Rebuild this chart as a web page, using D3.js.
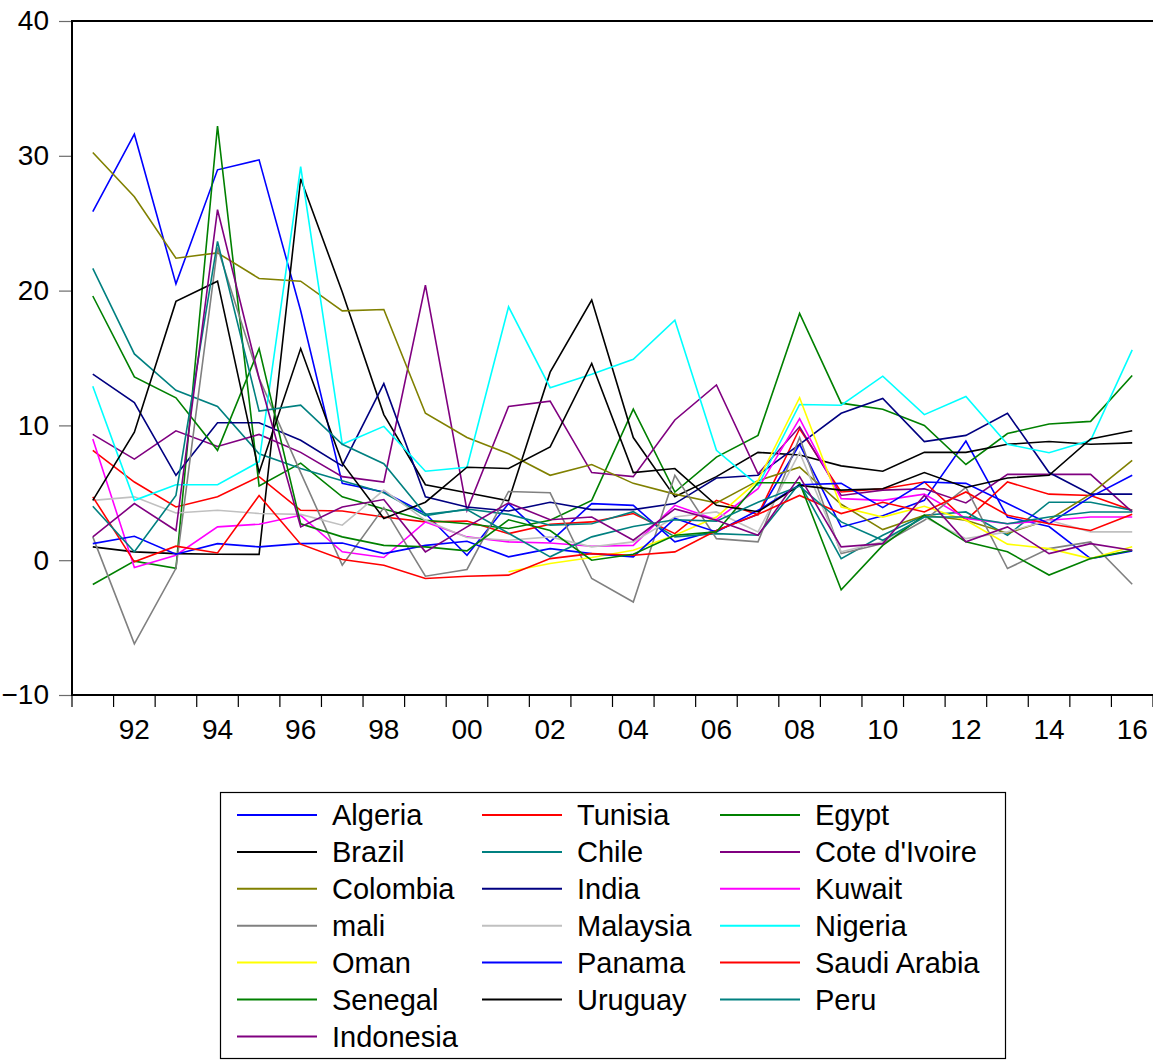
<!DOCTYPE html>
<html>
<head>
<meta charset="utf-8">
<script src="https://cdn.jsdelivr.net/npm/d3@7"></script>
<style>
body { margin: 0; background: #fff; }
text { font-family: "Liberation Sans", Arial, sans-serif; }
</style>
</head>
<body>
<svg id="chart" width="1153" height="1062"></svg>
<script>
// years on the x axis
var years = [1991,1992,1993,1994,1995,1996,1997,1998,1999,2000,2001,2002,2003,
             2004,2005,2006,2007,2008,2009,2010,2011,2012,2013,2014,2015,2016];
var yTicks = [-10, 0, 10, 20, 30, 40];

// series values
var algeria  = [25.85,31.6,20.5,28.96,29.7,18.5,5.7,5.06,3.46,0.37,4.2,1.36,4.2,4.07,1.36,2.2,3.4,8.6,2.47,3.3,4.44,8.84,3.2,2.5,0.12,0.69];
var tunisia  = [8.15,5.8,3.95,4.7,6.2,3.7,3.65,3.2,2.84,2.9,1.97,2.67,2.84,3.46,1.97,4.44,3.38,9.75,5.06,5.3,5.8,2.96,5.8,4.9,4.8,3.7];
var egypt    = [-1.8,-0.07,-0.6,32.2,5.5,7.2,4.7,3.8,2.96,2.7,2.35,2.96,4.44,11.2,5.06,7.65,9.26,18.3,11.65,11.2,10.0,7.1,9.4,10.1,10.3,13.7];
var brazil   = [0.99,0.62,0.49,0.44,0.43,28.3,19.9,10.8,5.6,5.0,4.4,13.95,19.3,9.1,4.7,6.2,8.0,7.8,7.0,6.6,8.0,8.0,8.6,8.8,8.6,8.7];
var chile    = [21.65,15.3,12.6,11.4,7.9,6.8,5.9,5.0,3.3,3.8,3.4,2.6,2.7,3.6,1.73,1.97,1.85,5.7,0.12,1.85,3.33,3.58,1.85,4.3,4.3,3.7];
var coteIvoire = [9.33,7.5,9.6,8.44,9.33,8.0,6.2,5.8,20.4,3.7,11.4,11.8,6.5,6.2,10.4,13.0,6.4,9.9,4.8,5.2,5.3,4.25,6.37,6.37,6.37,3.58];
var colombia = [30.25,26.96,22.4,22.8,20.9,20.7,18.5,18.6,10.9,9.1,7.9,6.3,7.1,5.7,4.9,4.25,5.9,6.9,4.15,2.27,3.33,2.96,2.0,3.0,4.9,7.4];
var india    = [13.8,11.7,6.3,10.2,10.2,8.9,7.0,13.1,4.7,3.95,3.65,4.3,3.75,3.75,4.2,6.1,6.3,8.6,10.9,12.0,8.8,9.26,10.9,6.5,4.9,4.9];
var kuwait   = [9.0,-0.54,0.37,2.47,2.67,3.33,0.62,0.2,2.84,1.73,1.36,1.28,1.04,1.1,4.07,3.0,5.3,10.5,4.57,4.44,4.9,3.1,2.7,2.96,3.2,3.2];
var mali     = [1.73,-6.2,-0.6,23.2,13.5,6.5,-0.37,3.9,-1.19,-0.69,5.1,5.0,-1.36,-3.1,6.3,1.6,1.36,9.1,0.49,1.23,2.96,5.4,-0.62,0.86,1.36,-1.78];
var malaysia = [4.44,4.7,3.5,3.7,3.46,3.4,2.6,5.2,2.96,1.68,1.48,1.73,0.99,1.36,3.2,3.58,2.1,8.0,0.62,1.36,3.2,1.6,2.1,2.96,2.1,2.1];
var nigeria  = [12.9,4.44,5.6,5.6,7.3,29.2,8.6,9.93,6.6,6.9,18.8,12.8,13.8,14.9,17.8,8.15,5.55,11.55,11.5,13.65,10.8,12.15,8.6,7.97,8.9,15.6];
var oman     = [null,null,null,null,null,null,null,null,null,null,-0.86,-0.25,0.2,0.74,1.85,3.2,5.9,12.05,3.95,3.2,4.0,2.96,1.19,0.86,0.12,0.99];
var panama   = [1.23,1.78,0.44,1.23,0.99,1.23,1.28,0.49,1.1,1.4,0.25,0.86,0.49,0.25,3.1,2.1,3.7,5.6,5.7,3.9,5.8,5.7,4.2,2.7,4.7,6.3];
var saudi    = [4.7,-0.12,1.04,0.54,4.8,1.19,0.05,-0.37,-1.36,-1.19,-1.11,0.12,0.49,0.37,0.62,2.2,3.4,4.8,3.46,4.3,3.58,5.06,3.33,2.7,2.2,3.4];
var senegal  = [19.6,13.6,12.05,8.15,15.7,2.7,1.73,1.1,0.99,0.69,3.0,2.2,0.0,0.44,1.85,2.1,5.75,5.75,-2.2,1.1,3.33,1.36,0.62,-1.1,0.12,0.74];
var uruguay  = [4.44,9.5,19.2,20.7,6.5,15.7,7.2,3.1,4.3,6.9,6.8,8.4,14.6,6.5,6.8,4.07,3.6,5.55,5.2,5.3,6.5,5.4,6.1,6.3,9.0,9.6];
var peru     = [4.0,0.62,4.8,23.65,11.06,11.5,8.6,7.16,3.4,3.75,2.0,0.25,1.73,2.5,3.0,2.9,4.3,5.5,2.84,1.48,3.2,3.2,2.7,3.2,3.58,3.58];
var indonesia = [1.73,4.2,2.2,26.0,13.5,2.47,3.95,4.5,0.62,2.47,4.25,3.0,3.2,1.48,3.8,2.96,1.85,6.2,0.99,1.23,4.8,1.36,2.47,0.49,1.23,0.74];

var names  = ["Algeria","Tunisia","Egypt","Brazil","Chile","Cote d'Ivoire","Colombia","India","Kuwait",
              "mali","Malaysia","Nigeria","Oman","Panama","Saudi Arabia","Senegal","Uruguay","Peru","Indonesia"];
var values = [algeria,tunisia,egypt,brazil,chile,coteIvoire,colombia,india,kuwait,
              mali,malaysia,nigeria,oman,panama,saudi,senegal,uruguay,peru,indonesia];
var colors = ["#0000FF","#FF0000","#008000","#000000","#008080","#800080","#808000","#000080","#FF00FF",
              "#808080","#C0C0C0","#00FFFF","#FFFF00","#0000FF","#FF0000","#008000","#000000","#008080","#800080"];

var svg = d3.select("#chart"),
    margin = {top: 21, right: 0, bottom: 367, left: 72},
    width = +svg.attr("width") - margin.left - margin.right,
    height = +svg.attr("height") - margin.top - margin.bottom;

var x = d3.scaleBand().domain(years).range([margin.left, margin.left + width]).padding(0);
var y = d3.scaleLinear().domain([-10, 40]).range([margin.top + height, margin.top]);
var xc = function(yr) { return x(yr) + x.bandwidth() / 2; };

// y axis ticks + labels
var yAxis = svg.append("g")
    .attr("transform", "translate(" + margin.left + ",0)")
    .call(d3.axisLeft(y).tickValues(yTicks).tickSize(13).tickPadding(10));
yAxis.select(".domain").remove();
yAxis.selectAll("line").attr("stroke", "#6b6b6b").attr("stroke-width", 1.2);
yAxis.selectAll("text").attr("font-size", "28px").attr("fill", "#000")
    .style("font-family", "'Liberation Sans', Arial, sans-serif");

// x axis: tick marks between years, labels on even years
var xAxis = svg.append("g")
    .attr("transform", "translate(0," + (margin.top + height) + ")");
xAxis.selectAll(".xt")
    .data(years.concat([2017]))
    .enter().append("line")
      .attr("class", "xt")
      .attr("x1", function(d) { return d === 2017 ? margin.left + width : x(d); })
      .attr("x2", function(d) { return d === 2017 ? margin.left + width : x(d); })
      .attr("y1", 0)
      .attr("y2", 12)
      .attr("stroke", "#000")
      .attr("stroke-width", 1.2);
xAxis.selectAll(".xl")
    .data(years.filter(function(d) { return d % 2 === 0; }))
    .enter().append("text")
      .attr("class", "xl")
      .attr("x", function(d) { return xc(d); })
      .attr("y", 44)
      .attr("text-anchor", "middle")
      .attr("font-size", "28px")
      .text(function(d) { return String(d).slice(2); });

// series lines
var line = d3.line()
    .defined(function(d) { return d != null; })
    .x(function(d, i) { return xc(years[i]); })
    .y(function(d) { return y(d); });

var plot = svg.append("g");
plot.selectAll(".series")
    .data(values)
    .enter().append("path")
      .attr("class", "series")
      .attr("fill", "none")
      .attr("stroke", function(d, i) { return colors[i]; })
      .attr("stroke-width", 1.6)
      .attr("stroke-linejoin", "miter")
      .attr("d", line);

// frame (left, top, bottom)
svg.append("path")
    .attr("d", "M" + (margin.left + width + 2) + "," + margin.top +
               "H" + margin.left + "V" + (margin.top + height) + "H" + (margin.left + width + 2))
    .attr("fill", "none")
    .attr("stroke", "#000")
    .attr("stroke-width", 2);

// legend
var leg = svg.append("g");
leg.append("rect")
    .attr("x", 220.5).attr("y", 792.5)
    .attr("width", 785).attr("height", 266)
    .attr("fill", "#fff").attr("stroke", "#000").attr("stroke-width", 1.2);

var colX = [237, 482, 720], rowY0 = 815, rowStep = 36.9;
var items = leg.selectAll(".item")
    .data(names)
    .enter().append("g")
      .attr("class", "item")
      .attr("transform", function(d, i) {
        return "translate(" + colX[i % 3] + "," + (rowY0 + Math.floor(i / 3) * rowStep) + ")";
      });
items.append("line")
    .attr("x1", 0).attr("x2", 80)
    .attr("stroke", function(d, i) { return colors[i]; })
    .attr("stroke-width", 2);
items.append("text")
    .attr("x", 95)
    .attr("dy", "0.36em")
    .attr("font-size", "29px")
    .text(function(d) { return d; });
</script>
</body>
</html>
